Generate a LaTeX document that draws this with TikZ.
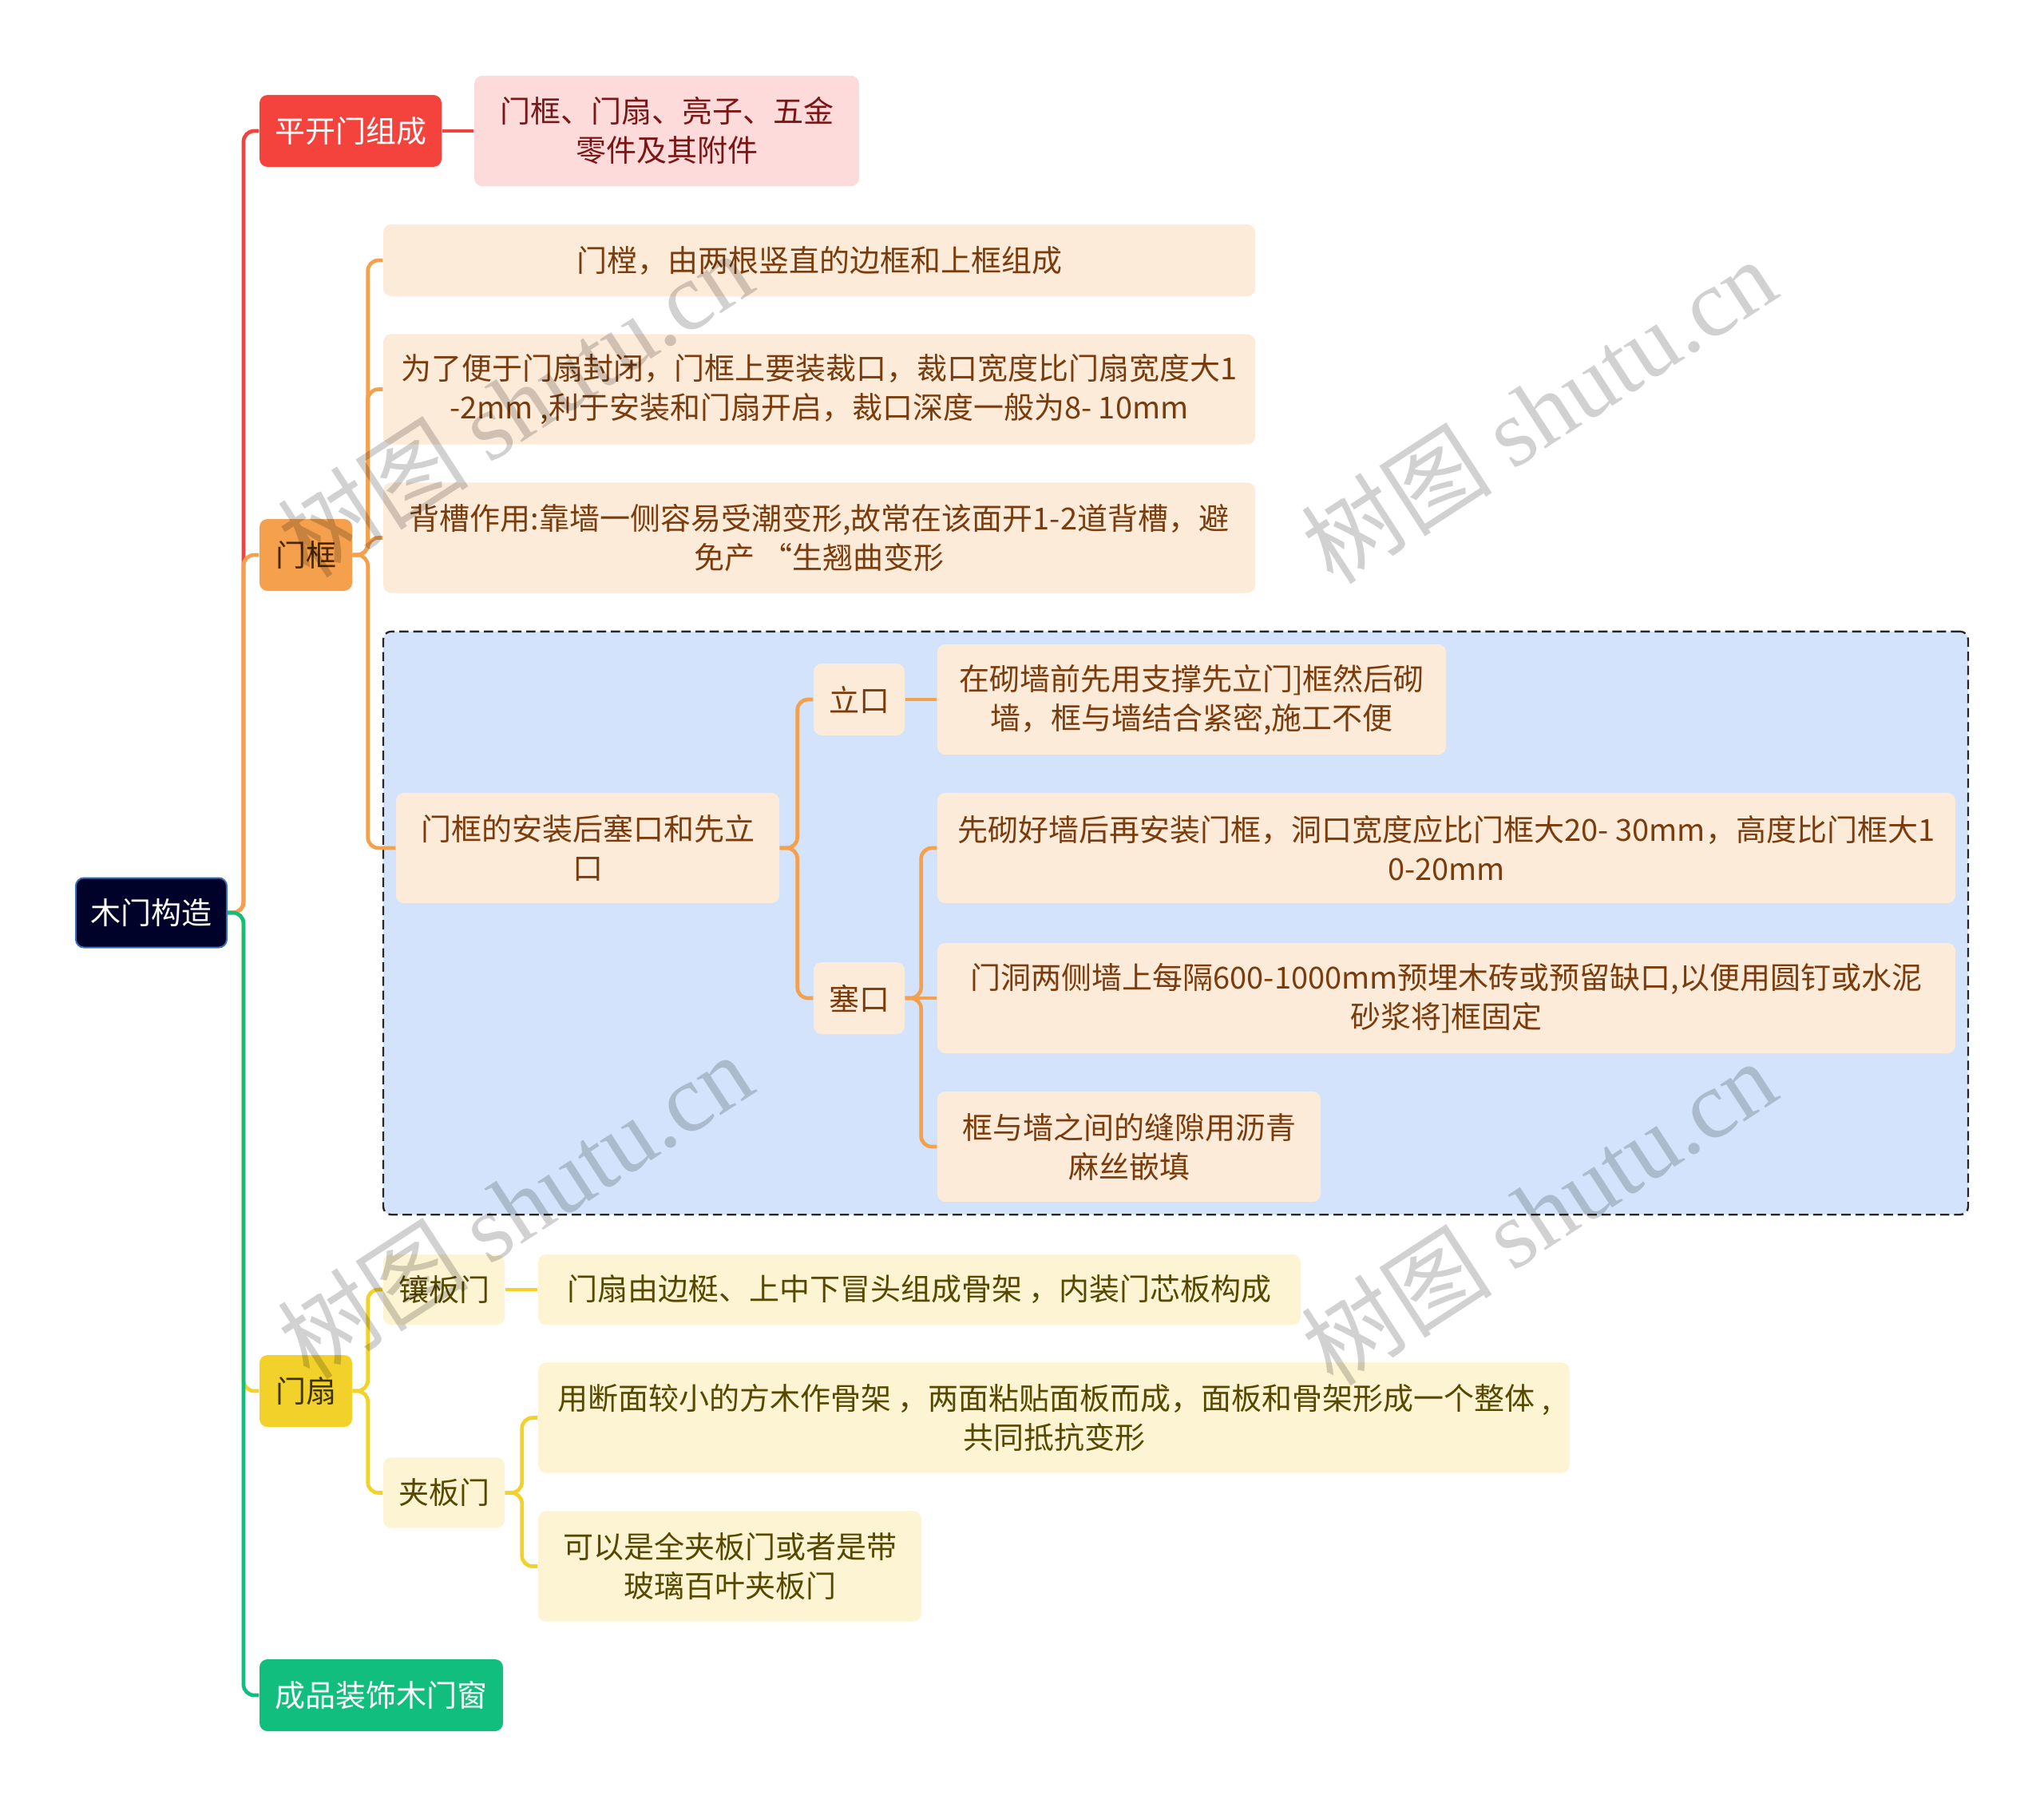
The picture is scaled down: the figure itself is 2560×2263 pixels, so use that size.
\documentclass[tikz,border=0pt]{standalone}
\usepackage{fontspec}
\setmainfont{Noto Sans CJK SC}
\newfontfamily\wmlatin{Liberation Serif}
\usetikzlibrary{positioning,fit,backgrounds}
\definecolor{rootnavy}{HTML}{000229}
\definecolor{rootedge}{HTML}{3C6EB8}
\definecolor{redmain}{HTML}{F4433D}
\definecolor{redlight}{HTML}{FDDBDB}
\definecolor{redtext}{HTML}{7A1616}
\definecolor{orgmain}{HTML}{F4A04C}
\definecolor{orglight}{HTML}{FDEBDA}
\definecolor{orgtext}{HTML}{7A3C0C}
\definecolor{orgdark}{HTML}{4A2500}
\definecolor{ylwmain}{HTML}{F2D22A}
\definecolor{ylwlight}{HTML}{FCF4D3}
\definecolor{ylwtext}{HTML}{574800}
\definecolor{ylwdark}{HTML}{3D3300}
\definecolor{grnmain}{HTML}{12BE7E}
\definecolor{bluefill}{HTML}{D3E3FB}

\begin{document}
\begin{tikzpicture}[
			x=0.3pt,y=-0.3pt,
			every node/.style={font=\fontsize{11.4}{14.7}\selectfont,align=center,inner sep=0pt},
			card/.style={rounded corners=3pt},
			one/.style={card,minimum height=27pt},
			two/.style={card,minimum height=41.5pt},
			link/.style={line width=1.4pt,rounded corners=4pt},
			group/.style={draw=black!85,fill=bluefill,dash pattern=on 3.5pt off 1.8pt,line width=0.7pt,rounded corners=3pt,inner sep=4.6pt},
			wm/.style={text=black,text opacity=0.18,rotate=33,font=\fontsize{36}{36}\selectfont}
			]
			\useasboundingbox (0,0) rectangle (2560,2263);
			% main topics
			\node[card,fill=rootnavy,draw=rootedge,line width=0.6pt,text=white,minimum width=56.7pt,minimum height=26.1pt] (root) at (189.5,1143) {木门构造};
			\node[one,fill=redmain,text=white,minimum width=68.4pt] (swing) at (439,164) {平开门组成};
			\node[one,fill=orgmain,text=orgdark,minimum width=34.8pt] (frame) at (383,695) {门框};
			\node[one,fill=ylwmain,text=ylwdark,minimum width=34.8pt] (leaf) at (383,1742) {门扇};
			\node[one,fill=grnmain,text=white,minimum width=91.5pt] (ready) at (477.5,2123) {成品装饰木门窗};
			% swing door
			\node[two,fill=redlight,text=redtext,minimum width=144.6pt] (swingparts) at (835,164) {门框、门扇、亮子、五金\\零件及其附件};
			% door frame
			\node[one,fill=orglight,text=orgtext,minimum width=327.6pt] (frmA) at (1026,326) {门樘，由两根竖直的边框和上框组成};
			\node[two,fill=orglight,text=orgtext,minimum width=327.6pt] (frmB) at (1026,487.5) {为了便于门扇封闭，门框上要装裁口，裁口宽度比门扇宽度大1\\-2mm ,利于安装和门扇开启，裁口深度一般为8- 10mm};
			\node[two,fill=orglight,text=orgtext,minimum width=327.6pt] (frmC) at (1026,673.5) {背槽作用:靠墙一侧容易受潮变形,故常在该面开1-2道背槽，避\\免产 “生翘曲变形};
			\node[two,fill=orglight,text=orgtext,minimum width=144pt] (frmD) at (736,1062) {门框的安装后塞口和先立\\口};
			\node[one,fill=orglight,text=orgtext,minimum width=34.2pt] (erect) at (1076,876) {立口};
			\node[one,fill=orglight,text=orgtext,minimum width=34.2pt] (insert) at (1076,1250) {塞口};
			\node[two,fill=orglight,text=orgtext,minimum width=191.1pt] (erectnote) at (1492.5,876) {在砌墙前先用支撑先立门]框然后砌\\墙，框与墙结合紧密,施工不便};
			\node[two,fill=orglight,text=orgtext,minimum width=382.5pt] (insA) at (1811.5,1062) {先砌好墙后再安装门框，洞口宽度应比门框大20- 30mm，高度比门框大1\\0-20mm};
			\node[two,fill=orglight,text=orgtext,minimum width=382.5pt] (insB) at (1811.5,1250) {门洞两侧墙上每隔600-1000mm预埋木砖或预留缺口,以便用圆钉或水泥\\砂浆将]框固定};
			\node[two,fill=orglight,text=orgtext,minimum width=144pt] (insC) at (1414,1436) {框与墙之间的缝隙用沥青\\麻丝嵌填};
			\begin{scope}[on background layer]
				\node[group,fit=(frmD)(erectnote)(insA)(insC)] (install) {};
			\end{scope}
			% door leaf
			\node[one,fill=ylwlight,text=ylwtext,minimum width=45.6pt,minimum height=26.5pt] (panel) at (556,1615) {镶板门};
			\node[one,fill=ylwlight,text=ylwtext,minimum width=45.6pt,minimum height=26.5pt] (ply) at (556,1869.5) {夹板门};
			\node[one,fill=ylwlight,text=ylwtext,minimum width=286.5pt,minimum height=26.5pt] (panelnote) at (1151.5,1615) {门扇由边梃、上中下冒头组成骨架 ，内装门芯板构成};
			\node[two,fill=ylwlight,text=ylwtext,minimum width=387.6pt] (plyA) at (1320,1775.5) {用断面较小的方木作骨架 ，两面粘贴面板而成，面板和骨架形成一个整体 ,\\共同抵抗变形};
			\node[two,fill=ylwlight,text=ylwtext,minimum width=144pt] (plyB) at (914,1961.5) {可以是全夹板门或者是带\\玻璃百叶夹板门};
			% connectors
			\draw[link,draw=redmain] (root.east) -- ++(20,0) |- (swing.west);
			\draw[link,draw=orgmain] (root.east) -- ++(20,0) |- (frame.west);
			\draw[link,draw=ylwmain] (root.east) -- ++(20,0) |- (leaf.west);
			\draw[link,draw=grnmain] (root.east) -- ++(20,0) |- (ready.west);
			\draw[link,draw=redmain] (swing) -- (swingparts);
			\foreach \kid in {frmA,frmB,frmC,frmD}
				\draw[link,draw=orgmain] (frame.east) -- ++(19,0) |- (\kid.west);
			\foreach \kid in {erect,insert}
				\draw[link,draw=orgmain] (frmD.east) -- ++(22,0) |- (\kid.west);
			\draw[link,draw=orgmain] (erect) -- (erectnote);
			\foreach \kid in {insA,insC}
				\draw[link,draw=orgmain] (insert.east) -- ++(20,0) |- (\kid.west);
			\draw[link,draw=orgmain] (insert) -- (insB);
			\foreach \kid in {panel,ply}
				\draw[link,draw=ylwmain] (leaf.east) -- ++(19,0) |- (\kid.west);
			\draw[link,draw=ylwmain] (panel) -- (panelnote);
			\foreach \kid in {plyA,plyB}
				\draw[link,draw=ylwmain] (ply.east) -- ++(21,0) |- (\kid.west);
			% watermarks
			\node[wm] (wmA) at (645,506) {树图 {\wmlatin shutu.cn}};
			\node[wm] (wmB) at (1927,514) {树图 {\wmlatin shutu.cn}};
			\node[wm] (wmC) at (645,1510) {树图 {\wmlatin shutu.cn}};
			\node[wm] (wmD) at (1927,1518) {树图 {\wmlatin shutu.cn}};
		\end{tikzpicture}
\end{document}
